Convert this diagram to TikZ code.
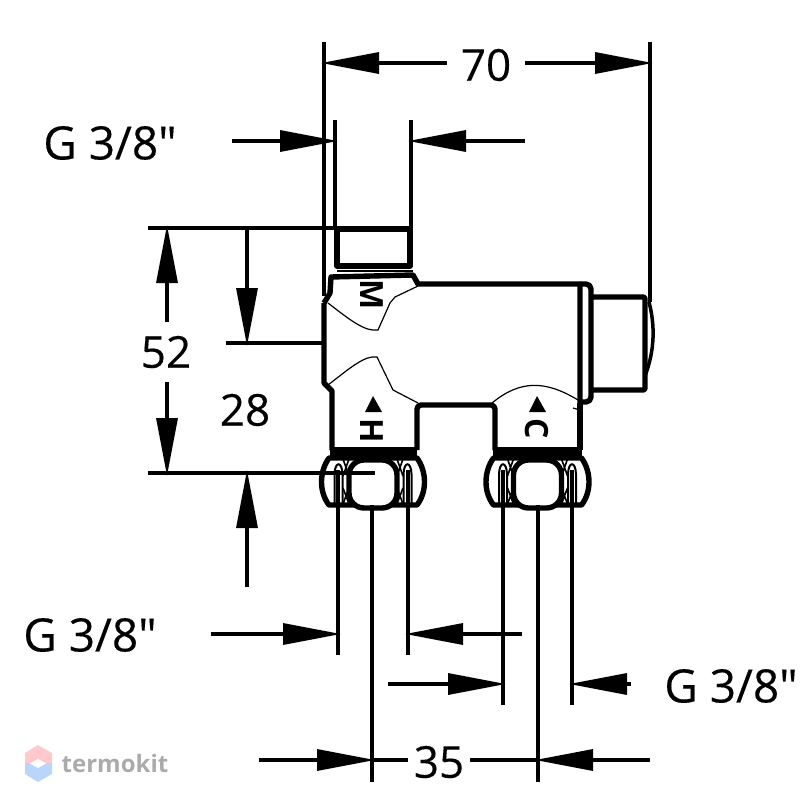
\documentclass[tikz,border=0pt]{standalone}
\usepackage{fontspec}
\setmainfont[Ligatures=TeXOff]{Open Sans}
\usetikzlibrary{arrows.meta}
\tikzset{
    bodyline/.style={line width=5.4pt, line join=round},
    thinline/.style={line width=1.2pt},
    extline/.style={line width=3.3pt},
    dimline/.style={line width=3.3pt, shorten >=-3pt, -{Triangle[length=58pt,width=21pt]}},
    dimlabel/.style={font=\fontsize{44}{44}\selectfont\addfontfeature{FakeBold=0.3}, inner sep=0pt},
    portlabel/.style={font=\fontsize{32}{32}\selectfont\bfseries, inner sep=0pt, rotate=-90},
    nut/.pic={
        \draw[bodyline] (-25,-24) -- (-44,-24) .. controls (-54,-10) and (-54,10) .. (-44,23) -- (44,23) .. controls (54,10) and (54,-10) .. (44,-24) -- (25,-24) -- cycle;
        \draw[line width=1.6pt] (-30,-23) -- (-24,-6) (-24,-23) -- (-30,-6) (-30,22) -- (-24,6) (-24,22) -- (-30,6);
        \draw[line width=1.6pt] (30,-23) -- (24,-6) (24,-23) -- (30,-6) (30,22) -- (24,6) (24,22) -- (30,6);
        \draw[bodyline, fill=white, rounded corners=15pt] (-24,-22) rectangle (24,26);
        \draw[line width=2pt] (-30.5,23) -- (-30.5,-8) .. controls (-31,-21) and (-38,-21) .. (-38.5,-8) -- (-38.5,23);
        \draw[line width=2pt] (30.5,23) -- (30.5,-8) .. controls (31,-21) and (38,-21) .. (38.5,-8) -- (38.5,23);
    },
}
\definecolor{markpink}{HTML}{FFC9CE}
\definecolor{markblue}{HTML}{B9D5FA}
\definecolor{markgrey}{HTML}{ABABAB}
\begin{document}
\begin{tikzpicture}[x=1pt, y=-1pt]
    \useasboundingbox (0,0) rectangle (806,808);

    % body
    \draw[bodyline] (324,303) -- (330,293) -- (331,277) -- (413,275) -- (418,284) -- (580,284) -- (580,403);
    \draw[bodyline] (324,303) -- (324,383) -- (332,391) -- (332,450);
    \draw[bodyline, rounded corners=4pt] (417,450) -- (417,405) -- (495,405) -- (495,450);
    \draw[bodyline] (580,403) -- (580,450);
    \draw[bodyline, rounded corners=5pt] (580,284) -- (591,284) -- (591,402) -- (580,402);
    \draw[bodyline, rounded corners=2pt] (591,297) -- (645,297) -- (645,390) -- (591,390);
    \draw[line width=3.5pt] (649,302) .. controls (655,325) and (655,350) .. (645,376);
    \draw[bodyline] (337,229) rectangle (410,266);
    \draw[thinline] (337,271) -- (413,271);

    % facets
    \draw[thinline] (328,303) .. controls (350,320) and (365,332) .. (378,330) -- (390,303) -- (395,297) -- (418,286);
    \draw[thinline] (328,385) .. controls (350,368) and (365,355) .. (377,357) -- (393,390) -- (418,403);
    \draw[thinline] (492,403) .. controls (520,380) and (545,380) .. (578,400);
    \draw[thinline] (573,408) -- (580,410);

    % nuts
    \fill (330,447) rectangle (417,458);
    \fill (493,447) rectangle (582,458);
    \pic at (373,482) {nut};
    \pic at (537.5,482) {nut};

    % port marks
    \node[portlabel] (markM) at (372,295) {M};
    \node[portlabel] (markH) at (372,431) {H};
    \node[portlabel] (markC) at (537,429) {C};
    \fill (373,396) -- (382,412) -- (365,412) -- cycle;
    \fill (537,396) -- (546,412) -- (529,412) -- cycle;

    % extension lines
    \draw[extline] (324,42) -- (324,296);
    \draw[extline] (650,42) -- (650,302);
    \draw[extline] (335,120) -- (335,228);
    \draw[extline] (411,120) -- (411,228);
    \draw[extline] (148,228) -- (335,228);
    \draw[extline] (148,473) -- (375,473);
    \draw[extline] (226,343) -- (324,343);
    \draw[extline] (338,470) -- (338,655);
    \draw[extline] (408,470) -- (408,655);
    \draw[extline] (503,470) -- (503,705);
    \draw[extline] (572,470) -- (572,705);
    \draw[extline] (372,505) -- (372,782);
    \draw[extline] (538,505) -- (538,782);

    % dimensions
    \coordinate (left70) at (324,63);
    \coordinate (right70) at (650,63);
    \node[dimlabel, inner xsep=14pt] (label70) at (486,65) {70};
    \draw[dimline] (label70.west |- left70) -- (left70);
    \draw[dimline] (label70.east |- right70) -- (right70);

    \node[dimlabel] (labelTop) at (110,143) {\fontsize{46}{46}\selectfont G 3/8"};
    \draw[dimline] (232,141) -- (335,141);
    \draw[dimline] (525,141) -- (411,141);

    \coordinate (top52) at (167,228);
    \coordinate (bot52) at (167,473);
    \node[dimlabel] (label52) at (166,352) {52};
    \draw[dimline] (167,322) -- (top52);
    \draw[dimline] (167,382) -- (bot52);

    \node[dimlabel] (label28) at (245,410) {28};
    \draw[dimline] (247,228) -- (247,343);
    \draw[dimline] (247,587) -- (247,473);

    \node[dimlabel] (labelLeft) at (90,635) {\fontsize{46}{46}\selectfont G 3/8"};
    \draw[dimline] (211,634) -- (338,634);
    \draw[dimline] (522,634) -- (408,634);

    \node[dimlabel] (labelRight) at (731,686) {\fontsize{46}{46}\selectfont G 3/8"};
    \draw[dimline] (388,684) -- (503,684);
    \draw[dimline] (631,684) -- (572,684);

    \coordinate (left35) at (372,760);
    \coordinate (right35) at (538,760);
    \node[dimlabel, inner xsep=6pt] (label35) at (439,762) {35};
    \draw[dimline] (259,760) -- (left35);
    \draw[dimline] (650,760) -- (right35);
    \draw[extline] (left35) -- (label35.west |- left35);
    \draw[extline] (right35) -- (label35.east |- right35);

    % watermark
    \fill[markblue] (25,763) -- (52,763) -- (52,774) -- (38,782) -- (25,774) -- cycle;
    \fill[markpink] (38,745) -- (52,753) -- (52,763) -- (25,763) -- (25,753) -- cycle;
    \fill[white] (38,759) -- (46,763.5) -- (38,768) -- (30,763.5) -- cycle;
    \node[font=\fontsize{24}{24}\selectfont\bfseries, text=markgrey, inner sep=0pt] (brand) at (115,763) {termokit};
\end{tikzpicture}
\end{document}
